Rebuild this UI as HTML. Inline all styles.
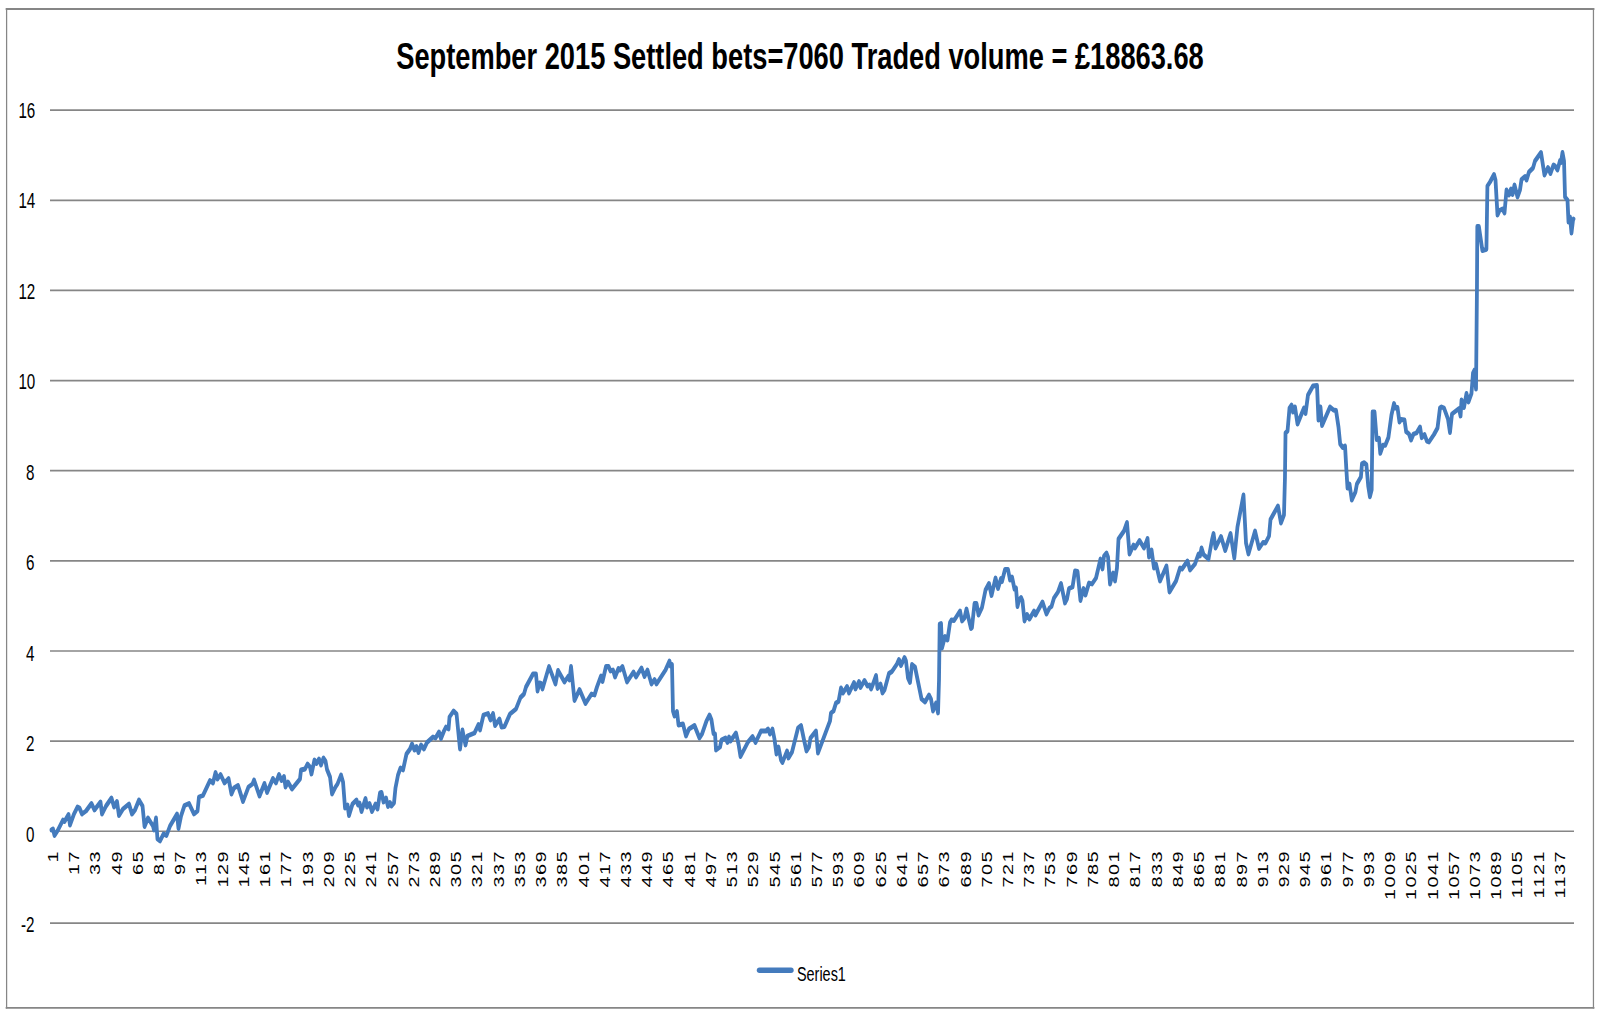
<!DOCTYPE html>
<html lang="en">
<head>
<meta charset="utf-8">
<title>September 2015 Settled bets=7060 Traded volume = £18863.68</title>
<style>
html,body{margin:0;padding:0;background:#fff;}
body{width:1601px;height:1018px;overflow:hidden;}
svg{display:block;}
text{font-family:"Liberation Sans",sans-serif;fill:#000;}
.t{font-weight:bold;}
</style>
</head>
<body>
<svg width="1601" height="1018" viewBox="0 0 1601 1018">
<rect x="0" y="0" width="1601" height="1018" fill="#ffffff"/>
<g stroke="#868686" stroke-linecap="square">
<line x1="6.60" y1="9.00" x2="1593.45" y2="9.00" stroke-width="1.9"/>
<line x1="6.60" y1="1007.90" x2="1593.45" y2="1007.90" stroke-width="1.9"/>
<line x1="6.60" y1="9.00" x2="6.60" y2="1007.90" stroke-width="1.25"/>
<line x1="1593.45" y1="9.00" x2="1593.45" y2="1007.90" stroke-width="1.25"/>
</g>
<g stroke="#868686" stroke-width="1.7">
<line x1="50" y1="110.20" x2="1574" y2="110.20"/>
<line x1="50" y1="200.33" x2="1574" y2="200.33"/>
<line x1="50" y1="290.46" x2="1574" y2="290.46"/>
<line x1="50" y1="380.59" x2="1574" y2="380.59"/>
<line x1="50" y1="470.72" x2="1574" y2="470.72"/>
<line x1="50" y1="560.85" x2="1574" y2="560.85"/>
<line x1="50" y1="650.98" x2="1574" y2="650.98"/>
<line x1="50" y1="741.11" x2="1574" y2="741.11"/>
<line x1="50" y1="831.24" x2="1574" y2="831.24"/>
<line x1="50" y1="923.20" x2="1574" y2="923.20"/>
</g>
<g font-size="21.60" text-anchor="end">
<text transform="translate(35.30,117.80) scale(0.703,1)">16</text>
<text transform="translate(35.30,208.29) scale(0.703,1)">14</text>
<text transform="translate(35.30,298.78) scale(0.703,1)">12</text>
<text transform="translate(35.30,389.27) scale(0.703,1)">10</text>
<text transform="translate(34.50,479.76) scale(0.703,1)">8</text>
<text transform="translate(34.50,570.25) scale(0.703,1)">6</text>
<text transform="translate(34.50,660.74) scale(0.703,1)">4</text>
<text transform="translate(34.50,751.23) scale(0.703,1)">2</text>
<text transform="translate(34.50,841.72) scale(0.703,1)">0</text>
<text transform="translate(34.50,932.21) scale(0.703,1)">-2</text>
</g>
<g font-size="14.30" text-anchor="end" letter-spacing="1.05">
<text transform="translate(57.90,849.90) rotate(-90) scale(1.390,1)">1</text>
<text transform="translate(79.12,849.90) rotate(-90) scale(1.390,1)">17</text>
<text transform="translate(100.35,849.90) rotate(-90) scale(1.390,1)">33</text>
<text transform="translate(121.58,849.90) rotate(-90) scale(1.390,1)">49</text>
<text transform="translate(142.80,849.90) rotate(-90) scale(1.390,1)">65</text>
<text transform="translate(164.03,849.90) rotate(-90) scale(1.390,1)">81</text>
<text transform="translate(185.25,849.90) rotate(-90) scale(1.390,1)">97</text>
<text transform="translate(206.48,849.90) rotate(-90) scale(1.390,1)">113</text>
<text transform="translate(227.70,849.90) rotate(-90) scale(1.390,1)">129</text>
<text transform="translate(248.93,849.90) rotate(-90) scale(1.390,1)">145</text>
<text transform="translate(270.15,849.90) rotate(-90) scale(1.390,1)">161</text>
<text transform="translate(291.38,849.90) rotate(-90) scale(1.390,1)">177</text>
<text transform="translate(312.60,849.90) rotate(-90) scale(1.390,1)">193</text>
<text transform="translate(333.82,849.90) rotate(-90) scale(1.390,1)">209</text>
<text transform="translate(355.05,849.90) rotate(-90) scale(1.390,1)">225</text>
<text transform="translate(376.27,849.90) rotate(-90) scale(1.390,1)">241</text>
<text transform="translate(397.50,849.90) rotate(-90) scale(1.390,1)">257</text>
<text transform="translate(418.73,849.90) rotate(-90) scale(1.390,1)">273</text>
<text transform="translate(439.95,849.90) rotate(-90) scale(1.390,1)">289</text>
<text transform="translate(461.18,849.90) rotate(-90) scale(1.390,1)">305</text>
<text transform="translate(482.40,849.90) rotate(-90) scale(1.390,1)">321</text>
<text transform="translate(503.62,849.90) rotate(-90) scale(1.390,1)">337</text>
<text transform="translate(524.85,849.90) rotate(-90) scale(1.390,1)">353</text>
<text transform="translate(546.08,849.90) rotate(-90) scale(1.390,1)">369</text>
<text transform="translate(567.30,849.90) rotate(-90) scale(1.390,1)">385</text>
<text transform="translate(588.52,849.90) rotate(-90) scale(1.390,1)">401</text>
<text transform="translate(609.75,849.90) rotate(-90) scale(1.390,1)">417</text>
<text transform="translate(630.98,849.90) rotate(-90) scale(1.390,1)">433</text>
<text transform="translate(652.20,849.90) rotate(-90) scale(1.390,1)">449</text>
<text transform="translate(673.43,849.90) rotate(-90) scale(1.390,1)">465</text>
<text transform="translate(694.65,849.90) rotate(-90) scale(1.390,1)">481</text>
<text transform="translate(715.88,849.90) rotate(-90) scale(1.390,1)">497</text>
<text transform="translate(737.10,849.90) rotate(-90) scale(1.390,1)">513</text>
<text transform="translate(758.33,849.90) rotate(-90) scale(1.390,1)">529</text>
<text transform="translate(779.55,849.90) rotate(-90) scale(1.390,1)">545</text>
<text transform="translate(800.77,849.90) rotate(-90) scale(1.390,1)">561</text>
<text transform="translate(822.00,849.90) rotate(-90) scale(1.390,1)">577</text>
<text transform="translate(843.23,849.90) rotate(-90) scale(1.390,1)">593</text>
<text transform="translate(864.45,849.90) rotate(-90) scale(1.390,1)">609</text>
<text transform="translate(885.68,849.90) rotate(-90) scale(1.390,1)">625</text>
<text transform="translate(906.90,849.90) rotate(-90) scale(1.390,1)">641</text>
<text transform="translate(928.12,849.90) rotate(-90) scale(1.390,1)">657</text>
<text transform="translate(949.35,849.90) rotate(-90) scale(1.390,1)">673</text>
<text transform="translate(970.58,849.90) rotate(-90) scale(1.390,1)">689</text>
<text transform="translate(991.80,849.90) rotate(-90) scale(1.390,1)">705</text>
<text transform="translate(1013.03,849.90) rotate(-90) scale(1.390,1)">721</text>
<text transform="translate(1034.25,849.90) rotate(-90) scale(1.390,1)">737</text>
<text transform="translate(1055.48,849.90) rotate(-90) scale(1.390,1)">753</text>
<text transform="translate(1076.70,849.90) rotate(-90) scale(1.390,1)">769</text>
<text transform="translate(1097.93,849.90) rotate(-90) scale(1.390,1)">785</text>
<text transform="translate(1119.15,849.90) rotate(-90) scale(1.390,1)">801</text>
<text transform="translate(1140.38,849.90) rotate(-90) scale(1.390,1)">817</text>
<text transform="translate(1161.60,849.90) rotate(-90) scale(1.390,1)">833</text>
<text transform="translate(1182.83,849.90) rotate(-90) scale(1.390,1)">849</text>
<text transform="translate(1204.05,849.90) rotate(-90) scale(1.390,1)">865</text>
<text transform="translate(1225.28,849.90) rotate(-90) scale(1.390,1)">881</text>
<text transform="translate(1246.50,849.90) rotate(-90) scale(1.390,1)">897</text>
<text transform="translate(1267.73,849.90) rotate(-90) scale(1.390,1)">913</text>
<text transform="translate(1288.95,849.90) rotate(-90) scale(1.390,1)">929</text>
<text transform="translate(1310.18,849.90) rotate(-90) scale(1.390,1)">945</text>
<text transform="translate(1331.40,849.90) rotate(-90) scale(1.390,1)">961</text>
<text transform="translate(1352.63,849.90) rotate(-90) scale(1.390,1)">977</text>
<text transform="translate(1373.85,849.90) rotate(-90) scale(1.390,1)">993</text>
<text transform="translate(1395.08,849.90) rotate(-90) scale(1.390,1)">1009</text>
<text transform="translate(1416.30,849.90) rotate(-90) scale(1.390,1)">1025</text>
<text transform="translate(1437.53,849.90) rotate(-90) scale(1.390,1)">1041</text>
<text transform="translate(1458.75,849.90) rotate(-90) scale(1.390,1)">1057</text>
<text transform="translate(1479.98,849.90) rotate(-90) scale(1.390,1)">1073</text>
<text transform="translate(1501.20,849.90) rotate(-90) scale(1.390,1)">1089</text>
<text transform="translate(1522.43,849.90) rotate(-90) scale(1.390,1)">1105</text>
<text transform="translate(1543.65,849.90) rotate(-90) scale(1.390,1)">1121</text>
<text transform="translate(1564.88,849.90) rotate(-90) scale(1.390,1)">1137</text>
</g>
<text class="t" font-size="36.50" text-anchor="middle" transform="translate(800.00,68.50) scale(0.747,1)">September 2015 Settled bets=7060 Traded volume = £18863.68</text>
<g transform="scale(0.770,1)"><path d="M66.9 830.0 L68.8 829.0 L70.8 835.5 L75.3 830.0 L81.8 820.0 L83.8 821.5 L89.0 814.5 L90.9 825.0 L96.1 814.0 L100.6 807.0 L103.2 808.0 L106.5 814.0 L111.7 811.0 L118.8 803.5 L122.7 810.0 L130.5 802.0 L132.5 814.0 L137.7 806.0 L144.8 798.0 L148.1 807.0 L151.9 801.5 L154.5 815.5 L159.7 809.0 L167.5 804.0 L171.4 814.0 L175.3 810.0 L180.5 800.0 L185.1 806.0 L187.7 826.5 L192.2 818.0 L198.7 826.0 L200.0 830.0 L202.6 818.0 L204.5 839.0 L207.8 841.0 L212.3 834.0 L216.2 835.5 L220.8 826.0 L229.9 814.0 L231.8 828.5 L235.1 816.0 L239.6 805.5 L245.5 803.5 L251.9 814.0 L256.5 811.0 L258.4 797.0 L263.6 795.5 L272.7 780.5 L276.6 783.0 L279.9 772.5 L282.5 779.0 L286.4 774.5 L291.6 783.0 L296.8 778.5 L300.6 794.0 L303.9 788.0 L309.1 785.5 L315.6 801.5 L322.7 787.0 L327.9 784.0 L329.9 780.0 L337.0 796.0 L343.5 783.5 L346.8 792.5 L354.5 778.5 L358.4 783.0 L362.3 774.5 L365.6 780.5 L368.8 776.5 L370.8 787.0 L374.0 782.0 L379.2 789.0 L389.6 779.0 L390.9 770.0 L396.1 769.0 L399.4 764.0 L402.6 767.0 L404.5 774.0 L408.4 760.0 L411.0 763.5 L414.3 759.0 L416.9 765.0 L420.1 758.0 L422.7 761.0 L424.7 769.5 L428.6 777.0 L431.2 794.0 L435.7 787.0 L438.3 784.0 L442.9 775.0 L445.5 782.0 L448.1 808.0 L451.3 805.0 L453.2 815.5 L457.8 804.0 L463.0 800.0 L464.9 805.0 L466.9 803.0 L469.5 811.5 L474.7 798.5 L476.6 807.0 L479.9 803.5 L483.1 811.5 L487.7 804.0 L490.3 809.0 L493.5 793.0 L495.5 792.5 L498.1 802.0 L501.3 798.0 L503.9 806.5 L506.5 802.5 L508.4 806.0 L511.7 803.0 L513.6 788.0 L516.9 775.0 L520.1 768.0 L523.4 770.0 L527.9 754.0 L532.5 749.0 L535.1 744.0 L538.3 750.0 L540.9 746.5 L543.5 752.5 L546.8 745.0 L550.6 749.0 L554.5 742.5 L562.3 737.0 L565.6 738.0 L570.1 732.0 L572.7 738.5 L576.6 731.0 L579.2 727.0 L582.5 729.0 L583.8 717.0 L589.0 711.0 L592.9 714.0 L597.4 749.0 L600.6 730.0 L604.5 745.0 L607.1 736.0 L616.2 733.0 L621.4 724.5 L623.4 730.0 L627.9 715.0 L633.8 713.5 L637.0 720.0 L640.3 713.5 L642.9 725.5 L648.7 719.0 L651.3 727.0 L655.2 726.5 L662.3 714.0 L670.1 709.0 L676.0 697.5 L680.5 694.0 L683.1 687.0 L692.2 674.0 L696.1 674.0 L698.1 691.0 L700.6 683.0 L702.6 683.5 L704.5 689.0 L713.0 666.5 L721.4 684.0 L724.7 670.5 L733.1 682.0 L738.3 676.0 L739.6 680.0 L741.6 666.5 L746.1 700.5 L752.6 689.5 L760.4 703.5 L768.2 694.0 L772.1 695.0 L775.3 687.0 L780.5 676.0 L782.5 681.5 L787.0 666.5 L790.3 666.5 L792.9 671.0 L796.1 670.0 L798.7 677.0 L803.2 668.5 L805.2 670.0 L808.4 666.5 L814.3 682.0 L822.7 672.0 L826.0 677.0 L833.1 668.0 L837.0 676.5 L840.9 670.0 L846.1 684.0 L850.0 679.5 L852.6 684.0 L864.3 670.0 L869.5 661.0 L870.8 666.0 L872.7 664.5 L874.0 711.0 L876.0 716.0 L879.2 711.5 L881.2 725.0 L887.0 724.0 L890.9 736.0 L894.8 729.0 L901.9 725.5 L908.4 738.0 L911.7 734.0 L917.5 721.0 L921.4 715.0 L924.0 720.0 L926.6 733.5 L928.6 734.0 L929.9 750.0 L935.1 747.0 L937.0 740.0 L942.2 738.0 L944.8 742.5 L946.8 737.0 L948.7 741.0 L955.8 733.0 L959.1 744.0 L961.7 756.5 L971.4 742.0 L977.3 736.5 L981.2 742.5 L988.3 731.0 L994.8 731.0 L997.4 729.0 L1000.0 734.0 L1003.2 729.0 L1005.8 739.0 L1008.4 754.0 L1011.0 747.0 L1014.3 760.0 L1016.2 762.5 L1022.1 751.0 L1024.0 758.0 L1028.6 752.0 L1036.4 728.0 L1040.3 725.5 L1044.2 740.0 L1047.4 751.0 L1050.6 747.0 L1052.6 738.0 L1059.7 731.0 L1062.3 753.0 L1074.0 729.0 L1077.9 721.0 L1079.2 713.0 L1082.5 711.0 L1085.7 703.0 L1089.0 701.5 L1092.2 688.0 L1094.8 693.0 L1100.0 686.5 L1102.6 693.0 L1109.1 682.5 L1111.0 689.0 L1115.6 681.5 L1117.5 687.5 L1122.7 680.5 L1126.6 686.0 L1129.2 685.0 L1131.2 689.0 L1133.8 684.0 L1137.7 675.5 L1139.6 688.5 L1143.5 684.0 L1146.1 693.0 L1148.7 690.0 L1154.5 673.5 L1158.4 671.5 L1164.9 664.0 L1167.5 659.5 L1170.1 665.5 L1174.7 657.5 L1176.6 661.0 L1179.2 678.0 L1181.8 682.5 L1184.4 664.5 L1188.3 667.0 L1196.8 699.0 L1201.3 702.0 L1206.5 695.0 L1209.1 699.0 L1211.7 711.0 L1215.6 703.0 L1218.2 713.0 L1219.5 680.0 L1220.4 624.0 L1222.1 623.5 L1223.4 648.0 L1227.3 636.5 L1230.5 640.0 L1233.8 622.5 L1235.7 620.0 L1239.0 620.5 L1246.8 611.0 L1249.4 621.0 L1252.6 618.0 L1255.2 609.0 L1258.4 620.0 L1261.0 628.5 L1262.3 627.5 L1265.6 603.5 L1268.2 603.5 L1270.8 615.0 L1275.3 607.5 L1279.9 590.0 L1284.4 583.5 L1287.7 595.5 L1292.9 578.0 L1296.1 588.5 L1300.0 578.5 L1301.3 581.5 L1305.2 569.5 L1309.1 569.5 L1311.7 580.0 L1314.3 577.0 L1317.5 589.0 L1319.5 588.0 L1321.4 606.5 L1323.4 600.0 L1326.0 597.5 L1327.9 601.0 L1330.5 621.0 L1333.8 614.5 L1337.0 619.0 L1342.9 611.0 L1344.8 615.0 L1353.9 602.0 L1359.1 614.0 L1363.0 608.0 L1365.6 606.5 L1368.8 598.0 L1374.0 592.0 L1377.9 583.5 L1383.1 603.0 L1385.7 599.0 L1388.3 588.5 L1392.9 587.0 L1396.1 571.0 L1399.4 571.5 L1403.2 600.5 L1407.1 588.5 L1409.7 595.0 L1414.3 583.0 L1418.2 584.0 L1423.4 578.0 L1429.2 559.0 L1431.8 569.0 L1433.8 556.0 L1437.0 553.0 L1439.0 557.0 L1441.6 584.0 L1445.5 573.0 L1448.1 581.0 L1450.6 568.0 L1452.6 539.0 L1459.7 531.0 L1463.6 522.5 L1466.9 554.0 L1472.1 545.0 L1474.0 548.0 L1479.9 540.5 L1485.7 548.0 L1490.3 538.5 L1492.2 557.0 L1495.5 550.0 L1498.7 568.0 L1501.3 564.0 L1506.5 581.0 L1514.9 566.0 L1518.8 592.0 L1527.3 581.0 L1532.5 568.0 L1535.1 569.0 L1542.2 561.0 L1545.5 570.0 L1551.9 564.0 L1556.5 554.0 L1558.4 556.0 L1560.4 548.0 L1563.0 554.5 L1569.5 559.0 L1574.0 540.0 L1576.0 533.5 L1578.6 548.0 L1585.7 536.5 L1591.2 550.5 L1598.1 533.5 L1603.0 558.0 L1607.1 527.0 L1614.9 495.0 L1618.2 543.0 L1621.4 554.0 L1629.9 531.0 L1635.1 548.5 L1640.3 542.5 L1643.5 543.0 L1648.1 536.0 L1650.0 519.5 L1653.2 515.0 L1659.7 506.0 L1663.6 523.0 L1667.5 515.0 L1668.8 477.0 L1669.5 433.0 L1672.1 431.0 L1674.7 408.0 L1677.3 405.0 L1679.2 412.0 L1681.8 407.0 L1685.1 424.0 L1690.3 414.0 L1693.5 408.0 L1695.5 413.5 L1698.7 395.0 L1705.2 386.0 L1710.4 385.5 L1712.3 420.0 L1714.9 407.0 L1716.9 425.5 L1727.3 407.0 L1731.8 410.0 L1735.1 410.5 L1738.3 427.0 L1740.5 444.0 L1743.8 447.5 L1746.8 446.0 L1748.4 467.7 L1750.0 488.0 L1752.6 484.0 L1755.6 500.0 L1760.3 492.0 L1762.2 484.0 L1767.4 477.0 L1768.8 463.8 L1771.4 462.6 L1774.5 464.6 L1777.0 486.6 L1779.1 496.8 L1781.4 489.7 L1782.6 412.0 L1785.1 412.0 L1787.9 439.5 L1790.9 438.3 L1792.6 453.4 L1796.1 445.3 L1799.0 445.3 L1803.1 437.5 L1807.1 415.0 L1810.4 403.5 L1812.3 408.0 L1814.9 407.5 L1817.5 422.0 L1819.5 419.5 L1824.0 420.0 L1826.2 431.7 L1829.9 434.0 L1832.5 440.0 L1835.7 434.0 L1839.6 433.0 L1844.2 427.0 L1846.4 437.7 L1850.0 434.5 L1853.2 441.2 L1855.8 442.0 L1862.3 434.5 L1866.9 428.0 L1870.1 408.0 L1872.1 407.0 L1875.3 408.0 L1880.5 419.0 L1883.1 432.5 L1885.7 414.0 L1889.0 412.0 L1894.8 408.5 L1896.8 416.0 L1898.1 400.0 L1901.3 407.5 L1904.5 393.5 L1907.1 402.0 L1911.0 393.5 L1913.0 373.0 L1914.9 370.0 L1916.9 389.0 L1918.1 290.0 L1918.6 226.5 L1920.6 226.5 L1925.2 250.5 L1930.4 249.3 L1931.7 186.0 L1935.1 182.0 L1940.3 174.5 L1942.2 180.0 L1944.8 215.0 L1947.4 210.5 L1951.3 209.0 L1953.9 213.0 L1956.5 190.0 L1959.7 195.0 L1962.3 189.0 L1964.3 194.5 L1966.9 185.0 L1970.8 197.0 L1974.0 190.0 L1976.0 179.5 L1980.5 176.5 L1982.5 180.0 L1985.7 172.0 L1990.9 168.0 L1993.5 161.0 L2001.3 152.5 L2005.8 175.0 L2010.4 167.5 L2013.6 173.5 L2017.5 165.0 L2019.5 166.0 L2022.7 170.0 L2026.0 160.5 L2027.3 162.5 L2029.2 152.5 L2031.2 161.0 L2032.5 197.0 L2035.7 200.0 L2037.0 222.0 L2039.0 217.0 L2040.9 233.0 L2042.9 220.0 L2043.5 219.0" fill="none" stroke="#447bbd" stroke-width="4.90" stroke-linejoin="round" stroke-linecap="round"/></g>
<line x1="759.5" y1="970.3" x2="791" y2="970.3" stroke="#447bbd" stroke-width="5.4" stroke-linecap="round"/>
<text font-size="20.30" transform="translate(797.00,981.00) scale(0.710,1)">Series1</text>
</svg>
</body>
</html>
